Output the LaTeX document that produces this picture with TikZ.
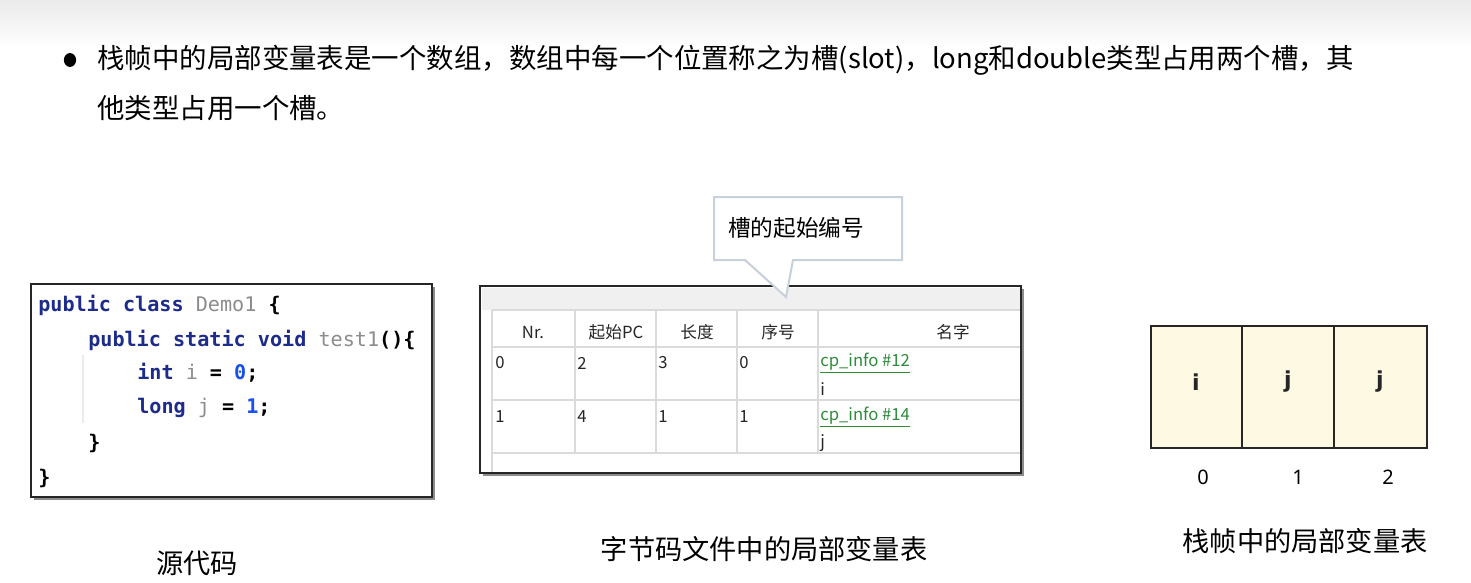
\documentclass[tikz,border=0pt]{standalone}
\usepackage{fontspec}
\setmainfont{Noto Sans CJK SC}
\newfontfamily\codefont{DejaVu Sans Mono}
\newfontfamily\latsans{Noto Sans}
\newfontfamily\slotfont{DejaVu Sans Bold}
\definecolor{kw}{HTML}{1D2B8A}
\definecolor{idg}{HTML}{8C8C8C}
\definecolor{num}{HTML}{1750EB}
\definecolor{lnk}{HTML}{2E8B3A}
\definecolor{grid}{HTML}{DADADA}
\definecolor{band}{HTML}{F0F0F0}
\definecolor{callb}{HTML}{C8D0DC}
\definecolor{slotfill}{HTML}{FEF9E3}
\tikzset{
  bodytxt/.style={anchor=west,inner sep=0pt,font=\fontsize{20.6}{24}\selectfont},
  codeline/.style={anchor=west,inner sep=0pt,font=\codefont\fontsize{15.1}{18}\selectfont},
  th/.style={inner sep=0pt,font=\fontsize{12.5}{14}\selectfont,text=black!85},
  td/.style={anchor=west,inner sep=0pt,font=\fontsize{12.5}{14}\selectfont,text=black!85},
  caption/.style={inner sep=0pt,font=\fontsize{20.4}{24}\selectfont},
  frame/.style={draw=black!85,line width=1.6pt,fill=white},
  shadowbox/.style={fill=black!45},
  slotbox/.style={draw=black!85,line width=0.9pt,fill=slotfill},
  slotletter/.style={inner sep=0pt,font=\slotfont\fontsize{16.5}{20}\selectfont,text=black!85},
  slotnum/.style={inner sep=0pt,font=\latsans\fontsize{15}{18}\selectfont},
}
\newcommand{\kwd}[1]{\textcolor{kw}{\bfseries #1}}
\begin{document}
\begin{tikzpicture}[x=0.75pt,y=-0.75pt]
\useasboundingbox (0,0) rectangle (1471,582);
\fill[white] (0,0) rectangle (1471,582);
\shade[top color=black!8,bottom color=white] (0,0) rectangle (1471,48);

% bullet text
\fill (70,60) ellipse [x radius=4.6pt, y radius=5.2pt];
\node[bodytxt] (l1) at (97,60) {栈帧中的局部变量表是一个数组，数组中每一个位置称之为槽(slot)，long和double类型占用两个槽，其};
\node[bodytxt] (l2) at (97,108) {他类型占用一个槽。};

% code box
\fill[shadowbox] (34,287) rectangle (435,500);
\draw[frame] (31,284) rectangle (432,497);
\draw[black!8,line width=0.8pt] (83,355) -- (83,423);
\node[codeline] (c1) at (38,305) {\kwd{public} \kwd{class} \textcolor{idg}{Demo1} \bfseries\{};
\node[codeline] (c2) at (88,340) {\kwd{public} \kwd{static} \kwd{void} \textcolor{idg}{test1}\bfseries()\{};
\node[codeline] (c3) at (137,373) {\kwd{int} \textcolor{idg}{i} \bfseries= \textcolor{num}{0};};
\node[codeline] (c4) at (137,408) {\kwd{long} \textcolor{idg}{j} \bfseries= \textcolor{num}{1};};
\node[codeline] (c5) at (88,443) {\bfseries\}};
\node[codeline] (c6) at (38,478) {\bfseries\}};

% bytecode table
\fill[shadowbox] (483,289) rectangle (1024,476);
\draw[frame] (480,286) rectangle (1021,473);
\fill[band] (481.5,287.5) rectangle (1019.5,310);
\draw[grid,line width=0.9pt] (492,310) -- (1019.5,310)
  (492,347) -- (1019.5,347) (492,400) -- (1019.5,400) (492,453) -- (1019.5,453);
\draw[grid,line width=0.9pt] (492,310) -- (492,471.5);
\foreach \cx in {575,656,737,818}{\draw[grid,line width=0.9pt] (\cx,310) -- (\cx,453);}
\node[th] (h1) at (533,332) {Nr.};
\node[th] (h2) at (616,332) {起始PC};
\node[th] (h3) at (697,332) {长度};
\node[th] (h4) at (778,332) {序号};
\node[th] (h5) at (953,332) {名字};
\node[td] (r1a) at (495,363) {0};
\node[td] (r1b) at (577,363) {2};
\node[td] (r1c) at (658,363) {3};
\node[td] (r1d) at (739,363) {0};
\node[td,text=lnk] (r1e) at (820,363) {\underline{cp\_info \#12}};
\node[td] (r1f) at (820,389) {i};
\node[td] (r2a) at (495,417) {1};
\node[td] (r2b) at (577,417) {4};
\node[td] (r2c) at (658,417) {1};
\node[td] (r2d) at (739,417) {1};
\node[td,text=lnk] (r2e) at (820,417) {\underline{cp\_info \#14}};
\node[td] (r2f) at (820,443) {j};

% callout
\draw[callb,line width=1.5pt,fill=white,line join=miter]
  (714,197) -- (902,197) -- (902,260) -- (793,260) -- (786,297) -- (745,260) -- (714,260) -- cycle;
\node[inner sep=0pt,font=\fontsize{17}{20}\selectfont] (call) at (796,228) {槽的起始编号};

% stack frame slots
\draw[slotbox] (1151,326) rectangle (1242,448);
\draw[slotbox] (1242,326) rectangle (1334,448);
\draw[slotbox] (1334,326) rectangle (1427,448);
\node[slotletter] (s0) at (1196,382) {i};
\node[slotletter] (s1) at (1288,382) {j};
\node[slotletter] (s2) at (1380,382) {j};
\node[slotnum] (n0) at (1203,477) {0};
\node[slotnum] (n1) at (1298,477) {1};
\node[slotnum] (n2) at (1388,477) {2};

% captions
\node[caption] (cap1) at (197,563) {源代码};
\node[caption] (cap2) at (764,549) {字节码文件中的局部变量表};
\node[caption] (cap3) at (1305,541) {栈帧中的局部变量表};
\end{tikzpicture}
\end{document}
